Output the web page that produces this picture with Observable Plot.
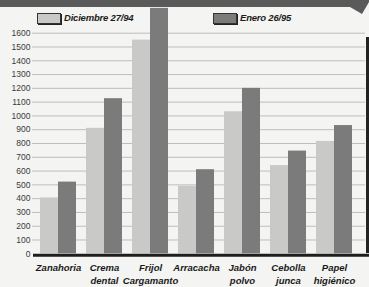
<!DOCTYPE html>
<html>
<head>
<meta charset="utf-8">
<script src="https://cdn.jsdelivr.net/npm/d3@7"></script>
<script src="https://cdn.jsdelivr.net/npm/@observablehq/plot@0.6"></script>
<style>
  html, body { margin: 0; padding: 0; background: #f4f4f2; }
  #wrap { position: relative; width: 369px; height: 287px; overflow: hidden; background: #f4f4f2; }
  #wrap svg { position: absolute; left: 0; top: 0; }
  .banner { position: absolute; left: 0; top: 0; width: 369px; height: 15px; background: #5a5a5a;
    clip-path: polygon(0 0, 100% 0, 100% 2px, 362px 14px, 350px 7px, 0 7px); }
  .sw { position: absolute; height: 9px; width: 22px; border: 1px solid #333; box-shadow: 1px 1px 0 #222; }
  .lg { position: absolute; font-family: "Liberation Sans", Arial, sans-serif;
    font-weight: bold; font-style: italic; font-size: 9.5px; color: #1c1c1c; line-height: 12px; letter-spacing: -0.2px; }
  .rb { position: absolute; left: 366px; top: 37px; width: 3px; height: 216px; background: #222; }
</style>
</head>
<body>
<div id="wrap"></div>
<script>
const categories = ["Zanahoria", "Crema dental", "Frijol Cargamanto", "Arracacha", "Jabón polvo", "Cebolla junca", "Papel higiénico"];
const labels = ["Zanahoria", "Crema\ndental", "Frijol\nCargamanto", "Arracacha", "Jabón\npolvo", "Cebolla\njunca", "Papel\nhigiénico"];
const diciembre = [405, 910, 1550, 490, 1030, 640, 815];
const enero = [520, 1125, 1780, 610, 1200, 745, 930];
const yTicks = [0, 100, 200, 300, 400, 500, 600, 700, 800, 900, 1000, 1100, 1200, 1300, 1400, 1500, 1600];
const seriesNames = ["Diciembre 27/94", "Enero 26/95"];
const colors = ["#c9c9c7", "#7b7b7b"];

const rows = categories.map((c, i) => ({cat: c, dic: diciembre[i], ene: enero[i]}));
const labelOf = new Map(categories.map((c, i) => [c, labels[i]]));

const font = '"Liberation Sans", Arial, sans-serif';

const chart = Plot.plot({
  width: 369,
  height: 287,
  marginLeft: 35,
  marginRight: 12,
  marginTop: 32.7,
  marginBottom: 33.7,
  style: {background: "transparent", fontFamily: font, overflow: "visible"},
  x: {type: "band", domain: categories, paddingInner: 0.217, paddingOuter: 0.1085, axis: null},
  y: {domain: [0, 1600], axis: null},
  marks: [
    Plot.ruleY(yTicks.filter(d => d > 0), {stroke: "#bdbdbb", strokeWidth: 1, insetLeft: -3, insetRight: -8}),
    Plot.axisY({ticks: yTicks, tickSize: 0, tickPadding: 5, fontSize: 8.5, fill: "#3a3a3a", tickFormat: d => String(d), label: null}),
    Plot.barY(rows, {x: "cat", y: "dic", fill: colors[0], insetRight: 18}),
    Plot.barY(rows, {x: "cat", y: "ene", fill: colors[1], insetLeft: 18}),
    Plot.ruleY([0], {stroke: "#1e1e1e", strokeWidth: 3, dy: 1.5, insetLeft: -2, insetRight: -12}),
    Plot.axisX({tickSize: 0, tickPadding: 7, fontSize: 9.5, fontWeight: "bold", fontStyle: "italic",
      fill: "#1a1a1a", lineHeight: 1.45, tickFormat: d => labelOf.get(d), label: null})
  ]
});

const wrap = document.getElementById("wrap");
wrap.appendChild(chart);

function add(cls, styles, text) {
  const el = document.createElement("div");
  el.className = cls;
  Object.assign(el.style, styles);
  if (text) el.textContent = text;
  wrap.appendChild(el);
}
add("banner", {});
add("rb", {});
add("sw", {left: "37px", top: "13px", background: colors[0]});
add("lg", {left: "64px", top: "12px"}, seriesNames[0]);
add("sw", {left: "213px", top: "13px", background: colors[1]});
add("lg", {left: "240px", top: "12px"}, seriesNames[1]);
</script>
</body>
</html>
